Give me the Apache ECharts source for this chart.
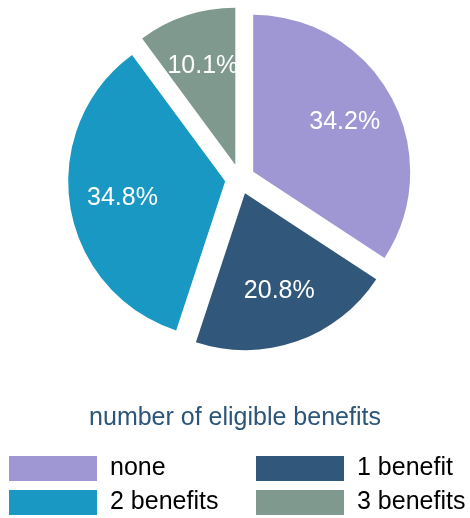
<!DOCTYPE html>
<html>
<head>
<meta charset="utf-8">
<script src="https://cdn.jsdelivr.net/npm/echarts@6/dist/echarts.min.js"></script>
<style>
  html, body { margin: 0; padding: 0; background: #fff; }
  #chart { width: 470px; height: 518px; }
</style>
</head>
<body>
<div id="chart"></div>
<script>
// Share of respondents by number of eligible benefits
const categories = ['none', '1 benefit', '2 benefits', '3 benefits'];
const shares = [34.2, 20.8, 34.8, 10.1];
const colors = ['#9e97d4', '#31587b', '#1898c2', '#7f998f'];
const legendTitle = 'number of eligible benefits';
const legendColumns = [['none', '2 benefits'], ['1 benefit', '3 benefits']];

const FONT = '"Liberation Sans", Arial, sans-serif';
const center = [240, 179];
const outerR = 157;
const offset = 15;

const sliceData = categories.map((name, i) => ({
  name: name,
  value: shares[i],
  selected: true,
  itemStyle: { color: colors[i] }
}));

const labelData = categories.map((name, i) => ({
  name: name,
  value: shares[i],
  selected: true
}));

const legendLefts = [9, 256];
const legends = legendColumns.map((col, i) => ({
  data: col,
  orient: 'vertical',
  left: legendLefts[i],
  top: 456,
  height: 70,
  padding: 0,
  itemWidth: 88,
  itemHeight: 25,
  itemGap: 9,
  icon: 'rect',
  selectedMode: false,
  textStyle: { fontFamily: FONT, fontSize: 25, color: '#000', padding: [2, 0, 0, 8] }
}));

const chart = echarts.init(document.getElementById('chart'), null, { renderer: 'canvas' });

chart.setOption({
  animation: false,
  backgroundColor: '#ffffff',
  title: {
    text: legendTitle,
    left: 'center',
    top: 406,
    padding: 0,
    textStyle: { fontFamily: FONT, fontSize: 25, fontWeight: 'normal', color: '#2b5579' }
  },
  legend: legends,
  series: [
    {
      type: 'pie',
      center: center,
      radius: [0, outerR],
      startAngle: 90,
      clockwise: true,
      selectedMode: 'multiple',
      selectedOffset: offset,
      avoidLabelOverlap: false,
      label: { show: false },
      labelLine: { show: false },
      emphasis: { disabled: true },
      data: sliceData
    },
    {
      // transparent ring used only to place the percentage labels
      type: 'pie',
      center: center,
      radius: [45, outerR],
      startAngle: 90,
      clockwise: true,
      silent: true,
      selectedMode: 'multiple',
      selectedOffset: offset,
      avoidLabelOverlap: false,
      itemStyle: { color: 'rgba(0,0,0,0)' },
      label: {
        show: true,
        position: 'inside',
        formatter: '{c}%',
        offset: [0, 2],
        fontFamily: FONT,
        fontSize: 25,
        color: '#ffffff'
      },
      labelLine: { show: false },
      emphasis: { disabled: true },
      data: labelData
    }
  ]
});
</script>
</body>
</html>
